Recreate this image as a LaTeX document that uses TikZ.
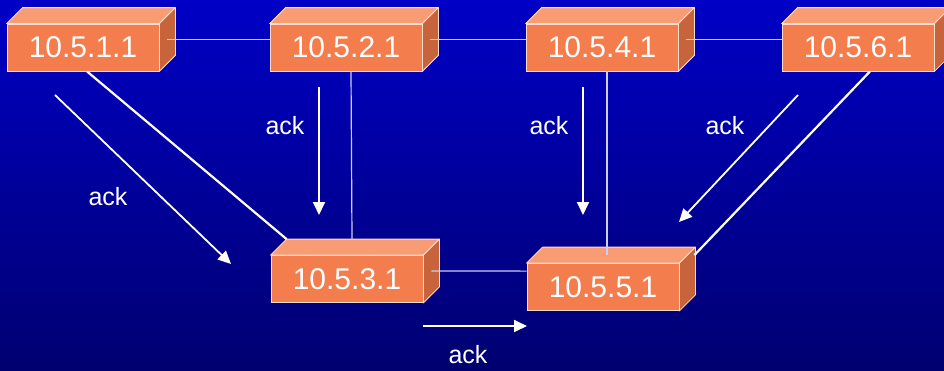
\documentclass[tikz,border=0pt]{standalone}
\usepackage{fontspec}
\setmainfont{Liberation Sans}
\usetikzlibrary{arrows.meta}

\definecolor{bgtop}{RGB}{0,0,198}
\definecolor{bgbottom}{RGB}{0,0,112}
\definecolor{boxfront}{RGB}{244,125,78}
\definecolor{boxtop}{RGB}{248,156,116}
\definecolor{boxside}{RGB}{200,100,60}
\definecolor{boxedge}{RGB}{252,222,208}
\definecolor{thinlink}{RGB}{205,205,238}

\tikzset{
  router/.style={rectangle,fill=boxfront,draw=boxedge,line width=0.8pt,
    minimum width=152pt,minimum height=47pt,inner sep=0pt,text=white,
    font=\fontsize{30}{36}\selectfont},
  face/.style={draw=boxedge,line width=0.8pt,line join=round},
  link/.style={thinlink,line width=1.2pt},
  wire/.style={white,line width=2.2pt},
  ackarrow/.style={white,line width=1.8pt,-{Triangle[length=13pt,width=12pt]}},
  acklabel/.style={text=white,font=\fontsize{25}{30}\selectfont}
}

\newcommand{\routerbox}[3]{
  \node [router] (#1) at (#2) {#3};
  \filldraw [face,fill=boxtop] (#1.north west) -- ([shift={(16,-16)}]#1.north west)
    -- ([shift={(16,-16)}]#1.north east) -- (#1.north east) -- cycle;
  \filldraw [face,fill=boxside] (#1.north east) -- ([shift={(16,-16)}]#1.north east)
    -- ([shift={(16,-16)}]#1.south east) -- (#1.south east) -- cycle;
}

\begin{document}
\begin{tikzpicture}[x=1pt,y=-1pt]
    \useasboundingbox (0,0) rectangle (944,370);
    \shade [top color=bgtop,bottom color=bgbottom] (0,0) rectangle (944,370);

    % routers
    \routerbox{r1}{83,47.5}{10.5.1.1}
    \routerbox{r2}{346,47.5}{10.5.2.1}
    \routerbox{r4}{602,47.5}{10.5.4.1}
    \routerbox{r6}{858,47.5}{10.5.6.1}
    \routerbox{r3}{347,279}{10.5.3.1}
    \routerbox{r5}{603,287}{10.5.5.1}

    % links
    \draw [link] ([shift={(8,-8)}]r1.east) -- ([shift={(0,-8)}]r2.west);
    \draw [link] ([shift={(8,-8)}]r2.east) -- ([shift={(0,-8)}]r4.west);
    \draw [link] ([shift={(8,-8)}]r4.east) -- ([shift={(0,-8)}]r6.west);
    \draw [link] ([shift={(8,-8)}]r3.east) -- ([shift={(0,8)}]r5.north west);
    \draw [link] ([xshift=5pt]r2.south) -- ([shift={(5,-16)}]r3.north);
    \draw [link] ([xshift=5pt]r4.south) -- ([shift={(4,-8)}]r5.north);
    \draw [wire] ([xshift=4pt]r1.south) -- ([shift={(16,-16)}]r3.north west);
    \draw [wire] ([xshift=12pt]r6.south) -- ([shift={(15,-8)}]r5.north east);

    % acks
    \coordinate (a1s) at (55,95);
    \coordinate (a1e) at (231,264);
    \coordinate (a2s) at (319,87);
    \coordinate (a2e) at (319,215);
    \coordinate (a3s) at (583,87);
    \coordinate (a3e) at (583,215);
    \coordinate (a4s) at (798,95);
    \coordinate (a4e) at (679,222);
    \coordinate (a5s) at (423,326);
    \coordinate (a5e) at (527,326);

    \draw [ackarrow] (a1s) -- (a1e);
    \draw [ackarrow] (a2s) -- (a2e);
    \draw [ackarrow] (a3s) -- (a3e);
    \draw [ackarrow] (a4s) -- (a4e);
    \draw [ackarrow] (a5s) -- (a5e);

    \node [acklabel] (ack1) at (108,197) {ack};
    \node [acklabel] (ack2) at (285,126) {ack};
    \node [acklabel] (ack3) at (549,126) {ack};
    \node [acklabel] (ack4) at (725,126) {ack};
    \node [acklabel] (ack5) at (468,355) {ack};
\end{tikzpicture}
\end{document}
